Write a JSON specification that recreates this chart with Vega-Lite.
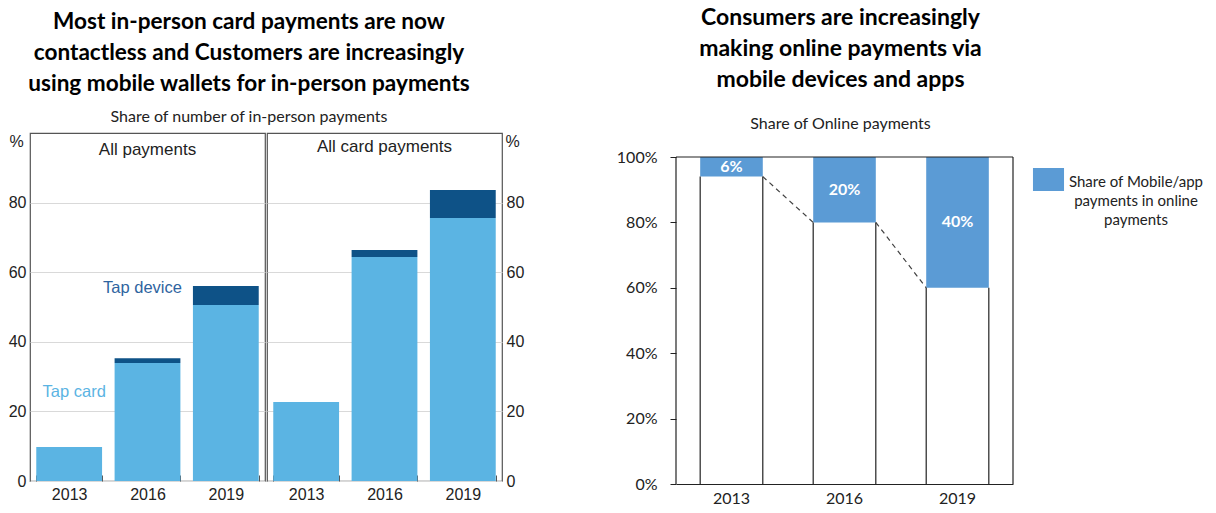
{
  "$schema": "https://vega.github.io/schema/vega-lite/v6.json",
  "padding": {"left": 7, "top": 7, "right": 5, "bottom": 5},
  "background": "white",
  "spacing": 91,
  "columns": 2,
  "align": "none",
  "datasets": {
    "inperson": [
      {"panel": "All payments", "year": "2013", "series": "Tap card", "value": 9.8},
      {"panel": "All payments", "year": "2013", "series": "Tap device", "value": 0},
      {"panel": "All payments", "year": "2016", "series": "Tap card", "value": 33.9},
      {"panel": "All payments", "year": "2016", "series": "Tap device", "value": 1.4},
      {"panel": "All payments", "year": "2019", "series": "Tap card", "value": 50.6},
      {"panel": "All payments", "year": "2019", "series": "Tap device", "value": 5.4},
      {"panel": "All card payments", "year": "2013", "series": "Tap card", "value": 22.7},
      {"panel": "All card payments", "year": "2013", "series": "Tap device", "value": 0},
      {"panel": "All card payments", "year": "2016", "series": "Tap card", "value": 64.4},
      {"panel": "All card payments", "year": "2016", "series": "Tap device", "value": 2.0},
      {"panel": "All card payments", "year": "2019", "series": "Tap card", "value": 75.6},
      {"panel": "All card payments", "year": "2019", "series": "Tap device", "value": 8.0}
    ],
    "online": [
      {"year": "2013", "part": "Other", "share": 94, "label": ""},
      {"year": "2013", "part": "Mobile/app", "share": 6, "label": "6%"},
      {"year": "2016", "part": "Other", "share": 80, "label": ""},
      {"year": "2016", "part": "Mobile/app", "share": 20, "label": "20%"},
      {"year": "2019", "part": "Other", "share": 60, "label": ""},
      {"year": "2019", "part": "Mobile/app", "share": 40, "label": "40%"}
    ],
    "connectors": [
      {"from": "2013", "to": "2016", "start": 94, "end": 80},
      {"from": "2016", "to": "2019", "start": 80, "end": 60}
    ]
  },
  "concat": [
    {
      "title": {
        "text": ["Most in-person card payments are now", "contactless and Customers are increasingly", "using mobile wallets for in-person payments"],
        "subtitle": "Share of number of in-person payments",
        "anchor": "middle",
        "font": "Lato", "fontSize": 22.6, "fontWeight": "bold", "lineHeight": 31, "color": "#000000",
        "subtitleFont": "Lato", "subtitleFontSize": 16, "subtitleColor": "#222222", "subtitlePadding": 14,
        "offset": 7, "dx": -17
      },
      "spacing": 0,
      "resolve": {"scale": {"color": "independent"}, "legend": {"color": "independent"}},
      "hconcat": [
        {
          "width": 235, "height": 348,
          "view": {"stroke": "#555555", "strokeWidth": 1.2},
          "layer": [
            {
              "data": {"name": "inperson"},
              "transform": [{"filter": "datum.panel === 'All payments'"}],
              "mark": {"type": "bar"},
              "encoding": {
                "x": {"field": "year", "type": "nominal", "scale": {"paddingInner": 0.16, "paddingOuter": 0.08},
                  "axis": {"title": null, "domain": false, "labelAngle": 0, "labelFont": "Liberation Sans", "labelFontSize": 16, "labelColor": "#222222", "tickBand": "extent", "tickSize": -6, "tickColor": "#555555", "labelPadding": 11}},
                "y": {"field": "value", "type": "quantitative", "stack": "zero", "scale": {"domain": [0, 100], "nice": false},
                  "axis": {"title": "%", "titleAngle": 0, "titleX": -21, "titleY": 8, "titleAlign": "left", "titleBaseline": "middle", "titleFont": "Liberation Sans", "titleFontSize": 16, "titleFontWeight": "normal", "titleColor": "#222222", "values": [0, 20, 40, 60, 80], "ticks": false, "domain": false, "labelFont": "Liberation Sans", "labelFontSize": 16, "labelColor": "#222222", "labelPadding": 4, "grid": true, "gridColor": "#d9d9d9"}},
                "color": {"field": "series", "type": "nominal", "scale": {"domain": ["Tap card", "Tap device"], "range": ["#5BB4E3", "#0E5287"]}, "legend": null},
                "order": {"field": "series"}
              }
            },
            {
              "data": {"values": [{"label": "All payments"}]},
              "mark": {"type": "text", "font": "Liberation Sans", "fontSize": 17, "color": "#222222"},
              "encoding": {"x": {"datum": "2016"}, "y": {"datum": 95}, "text": {"field": "label"}}
            },
            {
              "data": {"values": [{"label": "Tap device"}]},
              "mark": {"type": "text", "font": "Liberation Sans", "fontSize": 16.5, "color": "#2F64A0", "dx": -5},
              "encoding": {"x": {"datum": "2016"}, "y": {"datum": 55.5}, "text": {"field": "label"}}
            },
            {
              "data": {"values": [{"label": "Tap card"}]},
              "mark": {"type": "text", "font": "Liberation Sans", "fontSize": 16.5, "color": "#5BB4E3", "dx": 5},
              "encoding": {"x": {"datum": "2013"}, "y": {"datum": 25.6}, "text": {"field": "label"}}
            }
          ]
        },
        {
          "width": 235, "height": 348,
          "view": {"stroke": "#555555", "strokeWidth": 1.2},
          "layer": [
            {
              "data": {"name": "inperson"},
              "transform": [{"filter": "datum.panel === 'All card payments'"}],
              "mark": {"type": "bar"},
              "encoding": {
                "x": {"field": "year", "type": "nominal", "scale": {"paddingInner": 0.16, "paddingOuter": 0.08},
                  "axis": {"title": null, "domain": false, "labelAngle": 0, "labelFont": "Liberation Sans", "labelFontSize": 16, "labelColor": "#222222", "tickBand": "extent", "tickSize": -6, "tickColor": "#555555", "labelPadding": 11}},
                "y": {"field": "value", "type": "quantitative", "stack": "zero", "scale": {"domain": [0, 100], "nice": false},
                  "axis": {"orient": "right", "title": "%", "titleAngle": 0, "titleX": 3, "titleY": 8, "titleAlign": "left", "titleBaseline": "middle", "titleFont": "Liberation Sans", "titleFontSize": 16, "titleFontWeight": "normal", "titleColor": "#222222", "values": [0, 20, 40, 60, 80], "ticks": false, "domain": false, "labelFont": "Liberation Sans", "labelFontSize": 16, "labelColor": "#222222", "labelPadding": 4, "grid": true, "gridColor": "#d9d9d9"}},
                "color": {"field": "series", "type": "nominal", "scale": {"domain": ["Tap card", "Tap device"], "range": ["#5BB4E3", "#0E5287"]}, "legend": null},
                "order": {"field": "series"}
              }
            },
            {
              "data": {"values": [{"label": "All card payments"}]},
              "mark": {"type": "text", "font": "Liberation Sans", "fontSize": 17, "color": "#222222"},
              "encoding": {"x": {"datum": "2016"}, "y": {"datum": 96}, "text": {"field": "label"}}
            }
          ]
        }
      ]
    },
    {
      "title": {
        "text": ["Consumers are increasingly", "making online payments via", "mobile devices and apps"],
        "subtitle": "Share of Online payments",
        "anchor": "middle", "frame": "group",
        "font": "Lato", "fontSize": 23, "fontWeight": "bold", "lineHeight": 31, "color": "#000000",
        "subtitleFont": "Lato", "subtitleFontSize": 16, "subtitleColor": "#222222", "subtitlePadding": 24,
        "offset": 1, "dx": -4
      },
      "width": 337, "height": 351,
      "view": {"stroke": null},
      "layer": [
        {
          "data": {"name": "online"},
          "mark": {"type": "bar"},
          "encoding": {
            "x": {"field": "year", "type": "nominal", "scale": {"paddingInner": 0.446, "paddingOuter": 0.214},
              "axis": {"title": null, "domain": true, "domainColor": "#222222", "domainWidth": 1.2, "ticks": false, "labelAngle": 0, "labelFont": "Lato", "labelFontSize": 16, "labelColor": "#222222", "labelPadding": 6}},
            "y": {"field": "share", "type": "quantitative", "stack": "zero", "scale": {"domain": [0, 107.34], "nice": false, "zero": true},
              "axis": {"title": null, "values": [0, 20, 40, 60, 80, 100], "labelExpr": "datum.value + '%'", "domain": false, "tickSize": 6, "tickColor": "#222222", "labelPadding": 13, "labelFont": "Lato", "labelFontSize": 16, "labelColor": "#222222", "grid": false}},
            "color": {"field": "part", "type": "nominal", "scale": {"domain": ["Mobile/app", "Other"], "range": ["#5B9BD5", "#ffffff"]},
              "legend": {"orient": "right", "offset": -29, "padding": 53, "values": ["Mobile/app"], "labelExpr": "''", "symbolType": "M-1.35,-2.565L1.35,-2.565L1.35,-0.565L-1.35,-0.565Z", "symbolSize": 529, "symbolStrokeWidth": 0, "symbolOpacity": 1,
                "title": ["Share of Mobile/app", "payments in online", "payments"], "titleOrient": "right", "titleAlign": "center", "titleBaseline": "top", "titlePadding": 72, "titleFont": "Lato", "titleFontSize": 15, "titleFontWeight": "normal", "titleColor": "#222222", "titleLineHeight": 19, "titleLimit": 0}},
            "order": {"field": "part", "sort": "descending"}
          }
        },
        {
          "data": {"name": "online"},
          "mark": {"type": "text", "font": "Lato", "fontSize": 16, "fontWeight": "bold", "color": "#ffffff"},
          "encoding": {
            "x": {"field": "year", "type": "nominal"},
            "y": {"field": "share", "type": "quantitative", "stack": "zero", "bandPosition": 0.5},
            "detail": {"field": "part"},
            "order": {"field": "part", "sort": "descending"},
            "text": {"field": "label"}
          }
        },
        {
          "data": {"name": "online"},
          "transform": [{"filter": "datum.part === 'Other'"}],
          "mark": {"type": "rule", "color": "#222222", "strokeWidth": 1.2},
          "encoding": {
            "x": {"field": "year", "type": "nominal", "bandPosition": 0},
            "y": {"field": "share", "type": "quantitative", "stack": null},
            "y2": {"datum": 0}
          }
        },
        {
          "data": {"name": "online"},
          "transform": [{"filter": "datum.part === 'Other'"}],
          "mark": {"type": "rule", "color": "#222222", "strokeWidth": 1.2},
          "encoding": {
            "x": {"field": "year", "type": "nominal", "bandPosition": 1},
            "y": {"field": "share", "type": "quantitative", "stack": null},
            "y2": {"datum": 0}
          }
        },
        {
          "data": {"name": "connectors"},
          "mark": {"type": "rule", "color": "#404040", "strokeWidth": 1.2, "strokeDash": [5, 4]},
          "encoding": {
            "x": {"field": "from", "type": "nominal", "bandPosition": 1},
            "x2": {"field": "to", "bandPosition": 0},
            "y": {"field": "start", "type": "quantitative"},
            "y2": {"field": "end"}
          }
        },
        {
          "data": {"values": [{"edge": "top"}]},
          "mark": {"type": "rule", "color": "#222222", "strokeWidth": 1.2},
          "encoding": {"y": {"datum": 100}}
        },
        {
          "data": {"values": [{"edge": "left"}]},
          "mark": {"type": "rule", "color": "#222222", "strokeWidth": 1.2},
          "encoding": {"x": {"datum": "2013", "bandPosition": -0.3863}, "y": {"datum": 0}, "y2": {"datum": 100}}
        },
        {
          "data": {"values": [{"edge": "right"}]},
          "mark": {"type": "rule", "color": "#222222", "strokeWidth": 1.2},
          "encoding": {"x": {"datum": "2019", "bandPosition": 1.3863}, "y": {"datum": 0}, "y2": {"datum": 100}}
        }
      ]
    }
  ],
  "resolve": {"scale": {"color": "independent"}, "legend": {"color": "independent"}},
  "config": {"font": "Lato"}
}
